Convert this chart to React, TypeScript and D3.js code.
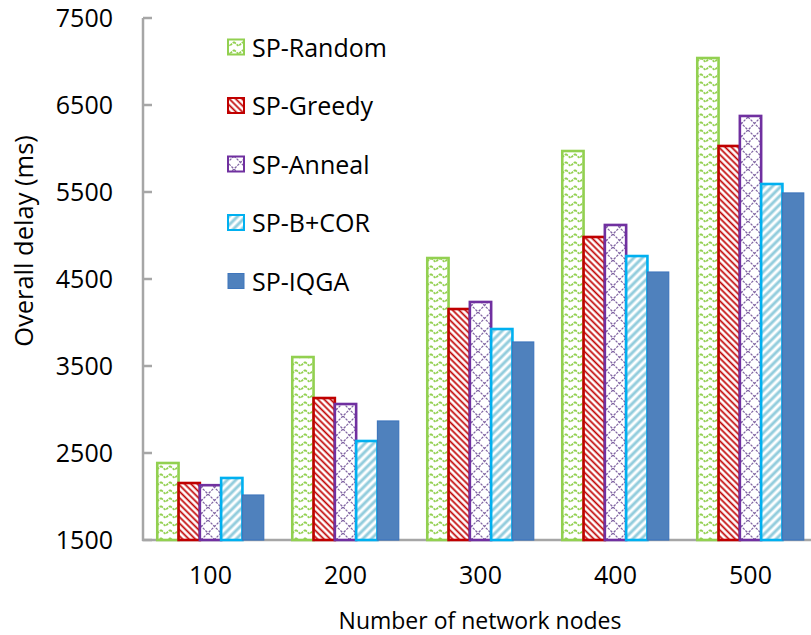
import React from "react";
import * as d3 from "d3";

const categories = ["100", "200", "300", "400", "500"];
const seriesNames = ["SP-Random", "SP-Greedy", "SP-Anneal", "SP-B+COR", "SP-IQGA"];
const spRandom = [2385, 3603, 4741, 5971, 7040];
const spGreedy = [2155, 3132, 4155, 4983, 6029];
const spAnneal = [2130, 3063, 4236, 5121, 6374];
const spBCOR = [2213, 2638, 3925, 4764, 5592];
const spIQGA = [2017, 2868, 3776, 4580, 5489];
const yTicks = [1500, 2500, 3500, 4500, 5500, 6500, 7500];

const seriesValues = [spRandom, spGreedy, spAnneal, spBCOR, spIQGA];

const W = 811;
const H = 635;
const FONT = "'Open Sans', sans-serif";

const strokes = ["#92D050", "#C00000", "#7030A0", "#00B0F0", "#3F76BC"];
const fills = ["url(#pRandom)", "url(#pGreedy)", "url(#pAnneal)", "url(#pBCOR)", "#4F81BD"];

export default function App() {
  const x0 = d3.scaleBand<string>().domain(categories).range([143, 818]).paddingInner(0).paddingOuter(0);
  const x1 = d3
    .scaleBand<string>()
    .domain(seriesNames)
    .range([0, x0.bandwidth()])
    .paddingInner(0)
    .paddingOuter(0.67);
  const y = d3.scaleLinear().domain([1500, 7500]).range([540, 18]);

  const legendY = [47, 105.5, 164, 222.5, 281];

  return (
    <div style={{ position: "absolute", left: 0, top: 0 }}>
      <svg width={W} height={H} style={{ display: "block", background: "#fff" }}>
        <defs>
          <pattern id="pRandom" patternUnits="userSpaceOnUse" width={9} height={8}>
            <rect width={9} height={8} fill="#fff" />
            <path d="M0,2 L4.5,6 L9,2" fill="none" stroke="#92D050" strokeWidth={1.7} strokeDasharray="2.5 1" />
          </pattern>
          <pattern id="pGreedy" patternUnits="userSpaceOnUse" width={4.5} height={4.5} patternTransform="rotate(45)">
            <rect width={4.5} height={4.5} fill="#fff" />
            <line x1={0} y1={2.25} x2={4.5} y2={2.25} stroke="#C00000" strokeWidth={1.7} />
          </pattern>
          <pattern id="pAnneal" patternUnits="userSpaceOnUse" width={13} height={13}>
            <rect width={13} height={13} fill="#fff" />
            <path d="M0,0 L13,13 M13,0 L0,13" stroke="#8064A2" strokeWidth={1.3} strokeDasharray="2.5 1.2" />
          </pattern>
          <pattern id="pBCOR" patternUnits="userSpaceOnUse" width={6} height={6} patternTransform="rotate(-45)">
            <rect width={6} height={6} fill="#fff" />
            <line x1={0} y1={3} x2={6} y2={3} stroke="#93CDDD" strokeWidth={3} />
          </pattern>
        </defs>

        {/* axes */}
        <g stroke="#A6A6A6" strokeWidth={2.5} fill="none">
          <line x1={143} y1={y(7500)} x2={143} y2={y(1500) + 1} />
          <line x1={142} y1={y(1500)} x2={W} y2={y(1500)} />
          {yTicks.map((t) => (
            <line key={t} x1={143} x2={152} y1={y(t)} y2={y(t)} />
          ))}
        </g>

        {/* bars */}
        {categories.map((c, ci) => (
          <g key={c} transform={`translate(${x0(c)},0)`}>
            {seriesNames.map((s, si) => {
              const v = seriesValues[si][ci];
              return (
                <rect
                  key={s}
                  x={x1(s)}
                  y={y(v)}
                  width={x1.bandwidth()}
                  height={y(1500) - y(v)}
                  fill={fills[si]}
                  stroke={strokes[si]}
                  strokeWidth={si === 4 ? 1.2 : 2.6}
                />
              );
            })}
          </g>
        ))}

        {/* tick labels */}
        <g fontFamily={FONT} fontSize={25} fill="#000">
          {yTicks.map((t) => (
            <text key={t} x={113} y={y(t) + 9} textAnchor="end">
              {t}
            </text>
          ))}
          {categories.map((c) => (
            <text key={c} x={(x0(c) as number) + x0.bandwidth() / 2} y={584} textAnchor="middle">
              {c}
            </text>
          ))}
        </g>

        {/* axis titles */}
        <text x={480} y={629} textAnchor="middle" fontFamily={FONT} fontSize={23} fill="#000">
          Number of network nodes
        </text>
        <text
          transform="translate(33,241) rotate(-90)"
          textAnchor="middle"
          fontFamily={FONT}
          fontSize={25.5}
          fill="#000"
        >
          Overall delay (ms)
        </text>

        {/* legend */}
        <g>
          {seriesNames.map((s, i) => (
            <g key={s}>
              <rect
                x={228}
                y={legendY[i] - 7.5}
                width={16}
                height={15}
                fill={fills[i]}
                stroke={strokes[i]}
                strokeWidth={i === 4 ? 1 : 2}
              />
              <text x={252} y={legendY[i] + 9.5} fontFamily={FONT} fontSize={25} fill="#000">
                {s}
              </text>
            </g>
          ))}
        </g>
      </svg>
    </div>
  );
}
